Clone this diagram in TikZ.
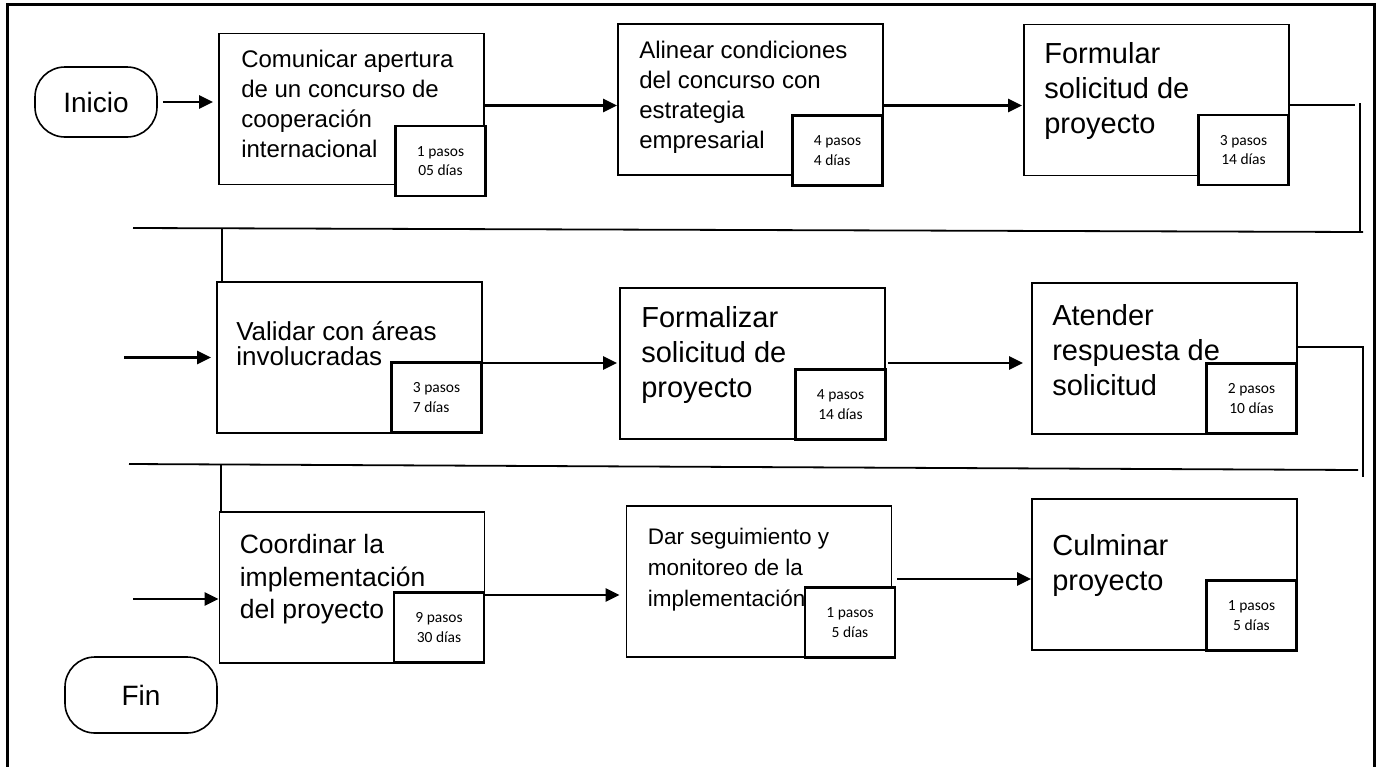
\documentclass[tikz,border=0pt]{standalone}
\usepackage{fontspec}
\setmainfont{Liberation Sans}
\newfontfamily\countfont{Carlito}
\usetikzlibrary{arrows.meta}

\begin{document}
\begin{tikzpicture}[
    x=1pt, y=-1pt,
    >={Triangle[length=14pt, width=13pt]},
    flow/.style={->, line width=2.6pt},
    wire/.style={line width=1.8pt},
    proc/.style={rectangle, draw, line width=1.8pt, minimum width=265pt, minimum height=151pt},
    cnt/.style={rectangle, draw, fill=white, line width=2.8pt, minimum width=90pt, minimum height=70pt, align=center, font=\countfont\fontsize{15.5}{19.5}\selectfont},
    term/.style={rectangle, draw, rounded corners=30pt, line width=1.6pt, font=\fontsize{28}{32}\selectfont},
    txtA/.style={anchor=north west, inner sep=0pt, align=left, font=\fontsize{24}{30}\selectfont},
    txtB/.style={txtA, font=\fontsize{26.5}{32.5}\selectfont},
    txtC/.style={txtA, font=\fontsize{29}{35}\selectfont}
]

\useasboundingbox (0,0) rectangle (1380,766);

% Outer frame
\draw[line width=3pt] (7,770) |- (1374,4) -- (1374,770);

% Start and end
\node[term, minimum width=122pt, minimum height=70pt] (ini) at (96,102) {Inicio};
\node[term, minimum width=152pt, minimum height=76pt] (fin) at (141,695) {Fin};

% Process boxes
\node[proc] (b1) at (351.5,109) {};
\node[proc] (b2) at (750.5,99.5) {};
\node[proc] (b3) at (1156.5,100) {};
\node[proc] (b4) at (349.5,357.5) {};
\node[proc] (b5) at (752.5,363.5) {};
\node[proc] (b6) at (1164.5,358.5) {};
\node[proc] (b7) at (352,587.5) {};
\node[proc] (b8) at (759,581.5) {};
\node[proc] (b9) at (1164.5,574.5) {};

% Steps and days
\node[cnt, anchor=south east] (c1) at ([xshift=2pt, yshift=-12pt]b1.south east) {1 pasos\\05 días};
\node[cnt, anchor=south east, align=left] (c2) at ([yshift=-11pt]b2.south east) {4 pasos\\4 días};
\node[cnt, anchor=south east] (c3) at ([yshift=-10pt]b3.south east) {3 pasos\\14 días};
\node[cnt, anchor=south east, align=left] (c4) at (b4.south east) {3 pasos\\7 días};
\node[cnt, anchor=south east] (c5) at ([xshift=1pt, yshift=-1pt]b5.south east) {4 pasos\\14 días};
\node[cnt, anchor=south east] (c6) at (b6.south east) {2 pasos\\10 días};
\node[cnt, anchor=south east] (c7) at (b7.south east) {9 pasos\\30 días};
\node[cnt, anchor=south east] (c8) at ([xshift=4pt, yshift=-1pt]b8.south east) {1 pasos\\5 días};
\node[cnt, anchor=south east] (c9) at ([yshift=-1pt]b9.south east) {1 pasos\\5 días};

% Box texts
\node[txtA] (t1) at ([xshift=23pt, yshift=-17pt]b1.north west) {Comunicar apertura\\de un concurso de\\cooperación\\internacional};
\node[txtA] (t2) at ([xshift=22pt, yshift=-18pt]b2.north west) {Alinear condiciones\\del concurso con\\estrategia\\empresarial};
\node[txtC] (t3) at ([xshift=21pt, yshift=-19pt]b3.north west) {Formular\\solicitud de\\proyecto};
\node[txtA, font=\fontsize{26}{25}\selectfont] (t4) at ([xshift=20pt, yshift=-40pt]b4.north west) {Validar con áreas\\involucradas};
\node[txtC] (t5) at ([xshift=22pt, yshift=-19pt]b5.north west) {Formalizar\\solicitud de\\proyecto};
\node[txtC] (t6) at ([xshift=21pt, yshift=-22pt]b6.north west) {Atender\\respuesta de\\solicitud};
\node[txtB] (t7) at ([xshift=21pt, yshift=-23pt]b7.north west) {Coordinar la\\implementación\\del proyecto};
\node[txtA, font=\fontsize{22.5}{31}\selectfont] (t8) at ([xshift=22pt, yshift=-23pt]b8.north west) {Dar seguimiento y\\monitoreo de la\\implementación};
\node[txtC] (t9) at ([xshift=21pt, yshift=-36pt]b9.north west) {Culminar\\proyecto};

% Row levels and loose ends
\coordinate (r1) at (0,105.5);
\coordinate (r2) at (0,363);
\coordinate (r3a) at (0,595);
\coordinate (r3b) at (0,579);
\coordinate (e1) at (1355,105);
\coordinate (d1t) at (1360,103);
\coordinate (d1b) at (1360,233);
\coordinate (h1r) at (1363,232);
\coordinate (h1l) at (133,228);
\coordinate (v1t) at (222,229);
\coordinate (in4) at (124,0);
\coordinate (e2) at (1363,347);
\coordinate (d2b) at (1363,477);
\coordinate (h2r) at (1358,470);
\coordinate (h2l) at (129,464);
\coordinate (v2t) at (221,465);
\coordinate (in7) at (133,599);

% Row 1
\draw[flow, shorten <=5pt, shorten >=5pt] (ini.east) -- (ini.east -| b1.west);
\draw[flow] (b1.east |- r1) -- (b2.west |- r1);
\draw[flow, shorten >=1pt] (b2.east |- r1) -- (b3.west |- r1);

% Turn to row 2
\draw[wire] (b3.east |- e1) -- (e1);
\draw[wire] (d1t) -- (d1b);
\draw[wire] (h1r) -- (h1l);
\draw[wire] (v1t) -- (v1t |- b4.north);
\draw[flow, shorten >=5pt] (in4 |- b4.west) -- (b4.west);

% Row 2
\draw[flow, shorten >=2pt] (b4.east |- r2) -- (b5.west |- r2);
\draw[flow, shorten <=2pt, shorten >=8pt] (b5.east |- r2) -- (b6.west |- r2);

% Turn to row 3
\draw[wire] (b6.east |- e2) -- (e2) -- (d2b);
\draw[wire] (h2r) -- (h2l);
\draw[wire] (v2t) -- (v2t |- b7.north);
\draw[flow] (in7) -- (in7 -| b7.west);

% Row 3
\draw[flow, shorten >=6pt] (b7.east |- r3a) -- (b8.west |- r3a);
\draw[flow, shorten <=5pt] (b8.east |- r3b) -- (b9.west |- r3b);

\end{tikzpicture}
\end{document}
